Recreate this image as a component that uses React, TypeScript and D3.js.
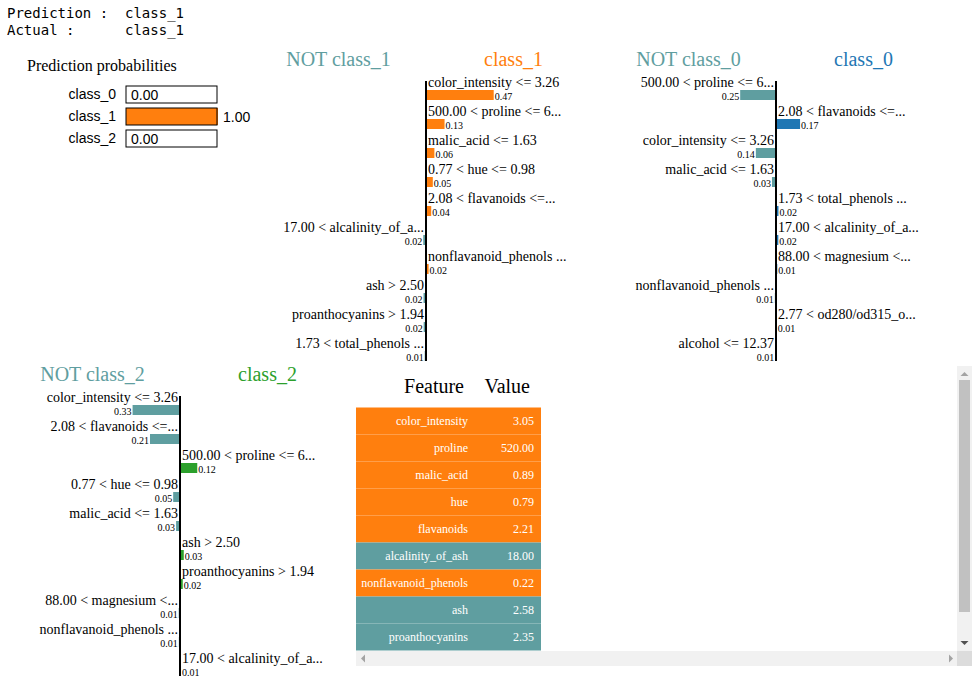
import React from 'react';
import * as d3 from 'd3';

const predictionLine = 'Prediction :  class_1';
const actualLine = 'Actual :      class_1';

const probClasses = ['class_0', 'class_1', 'class_2'];
const probValues = [0.0, 1.0, 0.0];

const class1Features = [
  'color_intensity <= 3.26',
  '500.00 < proline <= 6...',
  'malic_acid <= 1.63',
  '0.77 < hue <= 0.98',
  '2.08 < flavanoids <=...',
  '17.00 < alcalinity_of_a...',
  'nonflavanoid_phenols ...',
  'ash > 2.50',
  'proanthocyanins > 1.94',
  '1.73 < total_phenols ...',
];
const class1Weights = [0.467, 0.128, 0.058, 0.047, 0.036, -0.019, 0.018, -0.017, -0.016, -0.009];

const class0Features = [
  '500.00 < proline <= 6...',
  '2.08 < flavanoids <=...',
  'color_intensity <= 3.26',
  'malic_acid <= 1.63',
  '1.73 < total_phenols ...',
  '17.00 < alcalinity_of_a...',
  '88.00 < magnesium <...',
  'nonflavanoid_phenols ...',
  '2.77 < od280/od315_o...',
  'alcohol <= 12.37',
];
const class0Weights = [-0.247, 0.166, -0.139, -0.028, 0.017, 0.016, 0.009, -0.008, 0.006, -0.006];

const class2Features = [
  'color_intensity <= 3.26',
  '2.08 < flavanoids <=...',
  '500.00 < proline <= 6...',
  '0.77 < hue <= 0.98',
  'malic_acid <= 1.63',
  'ash > 2.50',
  'proanthocyanins > 1.94',
  '88.00 < magnesium <...',
  'nonflavanoid_phenols ...',
  '17.00 < alcalinity_of_a...',
];
const class2Weights = [-0.327, -0.207, 0.119, -0.047, -0.027, 0.026, 0.019, -0.009, -0.008, 0.007];

const tableFeatures = [
  'color_intensity',
  'proline',
  'malic_acid',
  'hue',
  'flavanoids',
  'alcalinity_of_ash',
  'nonflavanoid_phenols',
  'ash',
  'proanthocyanins',
];
const tableValues = [3.05, 520.0, 0.89, 0.79, 2.21, 18.0, 0.22, 2.58, 2.35];
const tablePositive = [true, true, true, true, true, false, true, false, false];

const NOT_COLOR = '#5F9EA0';
const CLASS_COLORS = ['#1f77b4', '#ff7f0e', '#2ca02c'];
const SERIF = '"Liberation Serif", "Times New Roman", serif';
const SANS = '"Liberation Sans", Arial, sans-serif';
const MONO = '"DejaVu Sans Mono", monospace';

function BarChart({ left, top, label, features, weights, color }: any) {
  const svgWidth = 350;
  const barWidth = svgWidth / 2 - 30;
  const xOffset = svgWidth / 2;
  const textHeight = 16;
  const gap = 3;
  const barHeight = 10;
  const total = textHeight + gap + barHeight;
  const n = features.length;
  const maxW = d3.max(weights, (w: number) => Math.abs(w)) as number;
  const x = d3.scaleLinear().domain([0, Math.max(1, maxW)]).range([0, barWidth]);
  const y = d3.scaleLinear().domain([0, n]).range([20, 20 + total * n]);
  const svgHeight = 20 + total * n;
  return (
    <g transform={`translate(${left},${top})`} fontFamily={SERIF}>
      <text x={svgWidth / 4} y={15} fontSize={20} textAnchor="middle" fill={NOT_COLOR}>
        {'NOT ' + label}
      </text>
      <text x={(svgWidth / 4) * 3} y={15} fontSize={20} textAnchor="middle" fill={color}>
        {label}
      </text>
      {features.map((f: string, i: number) => {
        const w = weights[i];
        const right = w > 0;
        const size = x(Math.abs(w));
        return (
          <g key={i}>
            <text
              x={right ? xOffset + 2 : xOffset - 2}
              y={y(i) + textHeight}
              textAnchor={right ? 'start' : 'end'}
              fontSize={14}
              fill="#000"
            >
              {f}
            </text>
            <rect
              x={right ? xOffset : xOffset - size}
              y={y(i) + textHeight + gap}
              width={size}
              height={barHeight}
              fill={right ? color : NOT_COLOR}
            />
            <text
              x={right ? xOffset + size + 1 : xOffset - size - 1}
              y={y(i) + textHeight + gap + barHeight}
              textAnchor={right ? 'start' : 'end'}
              fontSize={10}
              fill="#000"
            >
              {Math.abs(w).toFixed(2)}
            </text>
          </g>
        );
      })}
      <line x1={xOffset} x2={xOffset} y1={30} y2={svgHeight} stroke="black" strokeWidth={2} />
    </g>
  );
}

function PredictProba({ left, top }: any) {
  const barX = 126 - left + left; // relative computed below
  const bx = 119;
  const barHeight = 17;
  const space = 5;
  const barW = 92;
  const x = d3.scaleLinear().domain([0, 1]).range([0, barW]);
  const y = d3.scaleLinear().domain([0, 1]).range([35, 35 + barHeight + space]);
  return (
    <g transform={`translate(${left},${top})`}>
      <text x={20} y={20} fontFamily={SERIF} fontSize={16} fill="#000">
        Prediction probabilities
      </text>
      {probClasses.map((c, i) => (
        <g key={c} transform={`translate(0,${y(i)})`} fontFamily={SANS} fontSize={14}>
          <rect x={bx} y={0} width={x(probValues[i])} height={barHeight} fill={CLASS_COLORS[i]} />
          <rect x={bx} y={0} width={barW - 1} height={barHeight} fill="none" stroke="#000" strokeWidth={1} />
          <text x={bx + x(probValues[i]) + 5} y={barHeight} dy="-0.2em" fill="#000">
            {probValues[i].toFixed(2)}
          </text>
          <text x={bx - 10} y={barHeight} dy="-0.3em" textAnchor="end" fill="#000">
            {c}
          </text>
        </g>
      ))}
    </g>
  );
}

function FeatureTable({ left, top }: any) {
  const rowH = 27;
  const y = d3.scaleLinear().domain([0, 1]).range([41.5, 41.5 + rowH]);
  const width = 616;
  const height = 300;
  const sb = 15;
  return (
    <g transform={`translate(${left},${top})`}>
      <defs>
        <clipPath id="tableClip">
          <rect x={0} y={0} width={width - sb} height={height - sb} />
        </clipPath>
      </defs>
      <g clipPath="url(#tableClip)" fontFamily={SERIF}>
        <text x={108} y={27} textAnchor="end" fontSize={20} fill="#000">Feature</text>
        <text x={174} y={27} textAnchor="end" fontSize={20} fill="#000">Value</text>
        {tableFeatures.map((f, i) => (
          <g key={f}>
            <rect x={0} y={y(i)} width={185} height={rowH} fill={tablePositive[i] ? CLASS_COLORS[1] : NOT_COLOR} />
            <text x={112} y={y(i) + 17.5} textAnchor="end" fontSize={12} fill="#fff">{f}</text>
            <text x={178} y={y(i) + 17.5} textAnchor="end" fontSize={12} fill="#fff">{tableValues[i].toFixed(2)}</text>
          </g>
        ))}
      </g>
      {/* vertical scrollbar */}
      <rect x={width - sb} y={0} width={sb} height={height - sb} fill="#f1f1f1" />
      <rect x={width - sb + 2} y={14} width={sb - 4} height={232} fill="#c1c1c1" />
      <path d={`M${width - sb / 2 - 4},10 L${width - sb / 2 + 4},10 L${width - sb / 2},6 Z`} fill="#a3a3a3" />
      <path d={`M${width - sb / 2 - 4},${height - sb - 10} L${width - sb / 2 + 4},${height - sb - 10} L${width - sb / 2},${height - sb - 6} Z`} fill="#505050" />
      {/* horizontal scrollbar */}
      <rect x={0} y={height - sb} width={width - sb} height={sb} fill="#f1f1f1" />
      <path d={`M9,${height - sb / 2} L5,${height - sb / 2} L9,${height - sb / 2 - 4} L9,${height - sb / 2 + 4} L5,${height - sb / 2} Z`} fill="#a3a3a3" />
      <path d={`M${width - sb - 8},${height - sb / 2 - 4} L${width - sb - 4},${height - sb / 2} L${width - sb - 8},${height - sb / 2 + 4} Z`} fill="#a3a3a3" />
      <rect x={width - sb} y={height - sb} width={sb} height={sb} fill="#dcdcdc" />
    </g>
  );
}

export default function App() {
  return (
    <div style={{ position: 'absolute', left: 0, top: 0, width: 980, height: 694, background: '#fff' }}>
      <svg width={980} height={694} style={{ display: 'block' }}>
        <text x={7} y={18} fontFamily={MONO} fontSize={14} fill="#000" style={{ whiteSpace: 'pre' }}>
          {predictionLine}
        </text>
        <text x={7} y={35} fontFamily={MONO} fontSize={14} fill="#000" style={{ whiteSpace: 'pre' }}>
          {actualLine}
        </text>
        <PredictProba left={7} top={51} />
        <BarChart left={251} top={51} label="class_1" features={class1Features} weights={class1Weights} color={CLASS_COLORS[1]} />
        <BarChart left={601} top={51} label="class_0" features={class0Features} weights={class0Weights} color={CLASS_COLORS[0]} />
        <BarChart left={5} top={366} label="class_2" features={class2Features} weights={class2Weights} color={CLASS_COLORS[2]} />
        <FeatureTable left={356} top={366} />
      </svg>
    </div>
  );
}
